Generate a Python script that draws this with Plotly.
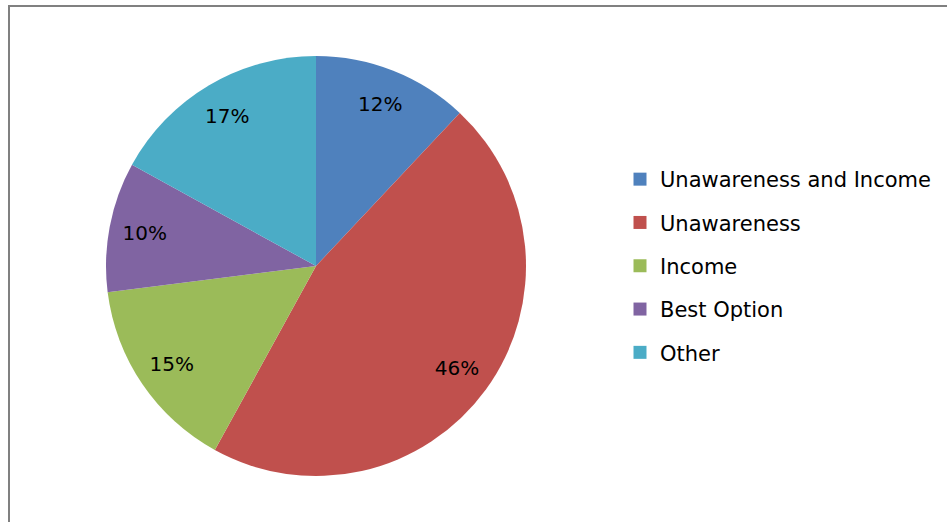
import plotly.graph_objects as go

labels = ["Unawareness and Income", "Unawareness", "Income", "Best Option", "Other"]
values = [12, 46, 15, 10, 17]
colors = ["#4F81BD", "#C0504D", "#9BBB59", "#8064A2", "#4BACC6"]

W, H = 947, 522
FONT = "DejaVu Sans"
pie_domain = dict(x=[106 / W, 526 / W], y=[46 / H, 466 / H])

fig = go.Figure()
# main pie (no text)
fig.add_trace(go.Pie(
    labels=labels, values=values, sort=False, direction="clockwise", rotation=0,
    marker=dict(colors=colors, line=dict(width=0)),
    textinfo="none", domain=pie_domain, showlegend=False,
    hoverinfo="label+percent",
))
# transparent ring overlay that carries the percentage labels near the rim
fig.add_trace(go.Pie(
    labels=labels, values=values, sort=False, direction="clockwise", rotation=0,
    hole=0.66,
    marker=dict(colors=["rgba(0,0,0,0)"] * len(values), line=dict(width=0)),
    textinfo="percent", textposition="inside", insidetextorientation="horizontal",
    textfont=dict(family=FONT, size=20, color="#000000"),
    domain=pie_domain, showlegend=False, hoverinfo="skip",
))
# legend entries
for lab, col in zip(labels, colors):
    fig.add_trace(go.Scatter(
        x=[None], y=[None], mode="markers", name=lab, legendgroup=lab,
        marker=dict(symbol="square", size=13, color=col),
        showlegend=True,
    ))

fig.update_layout(
    width=W, height=H,
    margin=dict(l=0, r=0, t=0, b=0),
    paper_bgcolor="#ffffff",
    plot_bgcolor="rgba(0,0,0,0)",
    xaxis=dict(visible=False), yaxis=dict(visible=False),
    showlegend=True,
    legend=dict(
        x=620 / W, y=1 - 159 / H, xanchor="left", yanchor="top",
        font=dict(family=FONT, size=21, color="#000000"),
        bgcolor="rgba(0,0,0,0)", tracegroupgap=13, traceorder="grouped",
    ),
    shapes=[
        dict(type="line", xref="paper", yref="paper", x0=9 / W, x1=9 / W, y0=0, y1=1 - 6 / H,
             line=dict(color="#808080", width=2)),
        dict(type="line", xref="paper", yref="paper", x0=8 / W, x1=1, y0=1 - 6 / H, y1=1 - 6 / H,
             line=dict(color="#808080", width=2)),
    ],
)

fig.write_html("out.html", config={"displayModeBar": False},
               post_script="document.body.style.margin='0px';")
